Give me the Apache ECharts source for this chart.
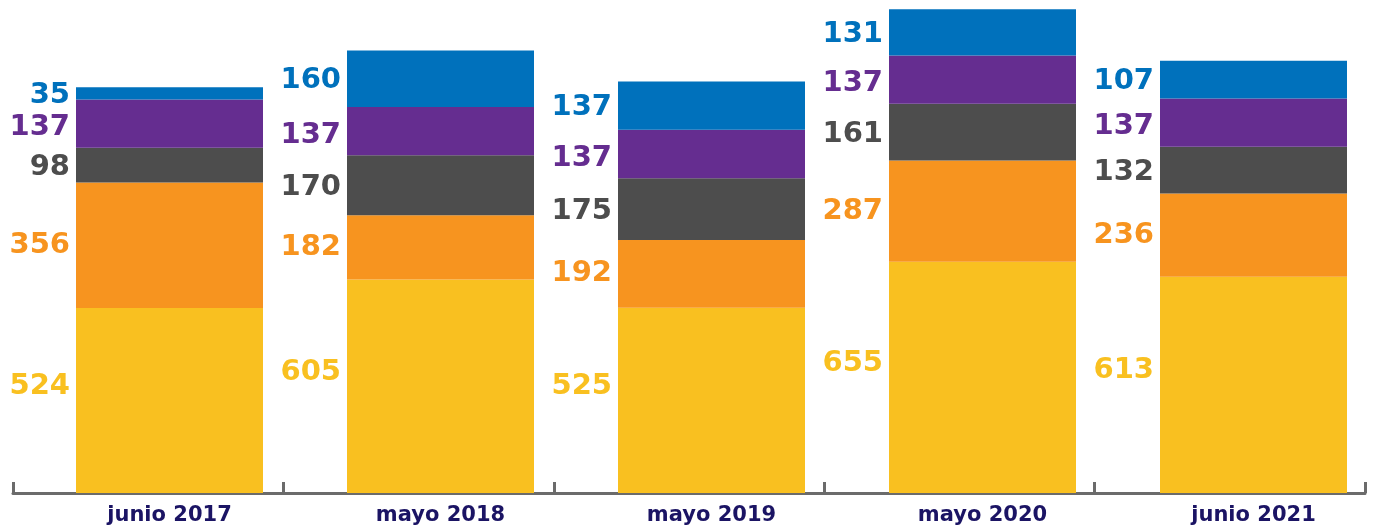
<!DOCTYPE html>
<html>
<head>
<meta charset="utf-8">
<script src="https://cdn.jsdelivr.net/npm/echarts@6/dist/echarts.min.js"></script>
<style>
html, body { margin: 0; padding: 0; background: #fff; overflow: hidden; }
#chart { width: 1389px; height: 527px; }
</style>
</head>
<body>
<div id="chart"></div>
<script>
// categorias y valores
var categorias = ['junio 2017', 'mayo 2018', 'mayo 2019', 'mayo 2020', 'junio 2021'];
var serieAmarilla = [524, 605, 525, 655, 613];
var serieNaranja = [356, 182, 192, 287, 236];
var serieGris = [98, 170, 175, 161, 132];
var serieMorada = [137, 137, 137, 137, 137];
var serieAzul = [35, 160, 137, 131, 107];

var fuente = '"DejaVu Sans", "Open Sans", sans-serif';

function serie(nombre, datos, color, offsetY) {
	return {
		name: nombre,
		type: 'bar',
		stack: 'total',
		xAxisIndex: 0,
		yAxisIndex: 0,
		barWidth: 187,
		data: datos,
		itemStyle: { color: color },
		label: {
			show: true,
			position: 'left',
			distance: 6,
			offset: [0, offsetY || 0],
			color: color,
			fontFamily: fuente,
			fontWeight: 'bold',
			fontSize: 29
		}
	};
}

var myChart = echarts.init(document.getElementById('chart'));
var option = {
	animation: false,
	grid: [
		{ left: 34, right: 0, top: 6, bottom: 34 },    // barras
		{ left: 13, right: 24, top: 6, bottom: 34 }    // linea del eje
	],
	xAxis: [{
		type: 'category',
		gridIndex: 0,
		data: categorias,
		axisLine: { show: false },
		axisTick: { show: false },
		axisLabel: {
			margin: 12,
			color: '#1b1464',
			fontFamily: fuente,
			fontWeight: 'bold',
			fontSize: 21
		}
	}, {
		// eje con marcas entre categorias
		type: 'value',
		gridIndex: 1,
		min: 0,
		max: categorias.length,
		interval: 1,
		splitLine: { show: false },
		axisLine: { show: true, onZero: false, lineStyle: { color: '#6b6b6b', width: 3 } },
		axisTick: { show: true, inside: true, length: 11, lineStyle: { color: '#6b6b6b', width: 3 } },
		axisLabel: { show: false }
	}],
	yAxis: [{
		type: 'value',
		gridIndex: 0,
		min: 0,
		max: 1380,
		show: false,
		splitLine: { show: false }
	}, {
		type: 'value',
		gridIndex: 1,
		min: 0,
		max: 1380,
		show: false,
		splitLine: { show: false }
	}],
	series: [
		serie('amarillo', serieAmarilla, '#f9c020', -14),
		serie('naranja', serieNaranja, '#f7941f'),
		serie('gris', serieGris, '#4d4d4d', 2),
		serie('morado', serieMorada, '#652d90', 4),
		serie('azul', serieAzul, '#0071bc', 2)
	]
};
myChart.setOption(option);
</script>
</body>
</html>
